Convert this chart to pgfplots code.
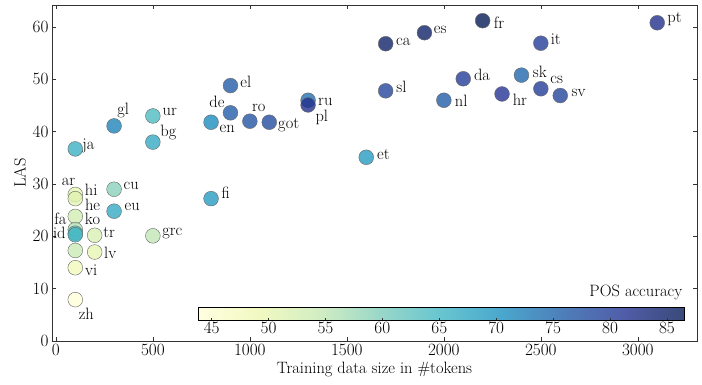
\documentclass[border=0pt]{standalone}
\usepackage{pgfplots}
\pgfplotsset{compat=1.18}
\pgfplotsset{
  colormap={ylgnbu}{rgb255=(255,255,217) rgb255=(237,248,177) rgb255=(199,233,180) rgb255=(127,205,187) rgb255=(65,182,196) rgb255=(29,145,192) rgb255=(34,94,168) rgb255=(37,52,148) rgb255=(8,29,88)},
  colormap={ylgnbuw}{rgb255=(255,255,225) rgb255=(241,249,193) rgb255=(210,237,195) rgb255=(153,215,201) rgb255=(103,197,208) rgb255=(74,167,205) rgb255=(78,126,185) rgb255=(81,93,169) rgb255=(57,74,121)},
}
\newcommand{\fs}{\fontsize{16.5}{19}\selectfont}
\begin{document}
\begin{tikzpicture}
\begin{axis}[
  name=main,
  scale only axis,
  width=645bp, height=336bp,
  xmin=-20, xmax=3305, ymin=0, ymax=64.2,
  xtick={0,500,...,3000}, ytick={0,10,...,60},
  scaled x ticks=false,
  /pgf/number format/1000 sep={},
  tick pos=both, tick align=inside, major tick length=4bp,
  axis line style={black!80},
  every tick/.style={black!80},
  ticklabel style={font=\fs},
  xlabel={Training data size in \#tokens},
  ylabel={LAS},
  label style={font=\fs},
  colormap name=ylgnbu,
  point meta min=43.8, point meta max=86.5,
  colorbar horizontal,
  colorbar style={
    colormap name=ylgnbuw,
    at={(parent axis.south west)}, anchor=south west,
    xshift=146bp, yshift=29bp,
    scale only axis, width=486bp, height=13bp,
    xtick={45,50,...,85},
    xtick pos=bottom, xtick align=inside, major tick length=3bp,
    xticklabel style={font=\fs, inner sep=1.5bp},
    title={POS accuracy},
    title style={at={(1,1)}, anchor=south east, font=\fs, inner sep=1.5bp},
  },
]
\addplot[scatter, only marks, mark=*, mark size=7.4bp, fill opacity=0.8,
  point meta=\thisrow{pos},
  scatter/use mapped color={draw=black!60, fill=mapped color}]
  table[x=x, y=y] {
x y pos
100 36.7 66
300 41.1 72
500 43.0 64
500 38.0 67
900 48.8 76
900 43.6 76
800 41.8 71
1000 42.0 77
1100 41.8 78
1300 46.0 74
1300 45.1 82
1600 35.1 69
1700 56.8 85
1900 58.9 85
2200 61.2 86.5
3100 60.8 82
2500 56.9 80
1700 47.8 79
2100 50.1 80
2400 50.8 75
2000 46.0 76
2300 47.2 81
2500 48.2 80
2600 46.9 79
100 28.0 50
100 27.2 51
100 23.8 53
100 21.3 56
100 20.6 63
100 20.3 65
100 17.3 54
100 14.0 48
100 7.9 43.8
200 20.2 52
200 17.0 50
300 29.0 59
300 24.8 67
500 20.1 55
800 27.2 69
};
\begin{scope}[every node/.style={font=\fs, inner sep=0pt}]
\node at (axis cs:979,49.5) {el};
\node at (axis cs:830,45.7) {de};
\node at (axis cs:1046,44.6) {ro};
\node at (axis cs:883,40.5) {en};
\node at (axis cs:1200,41.3) {got};
\node at (axis cs:1389,45.7) {ru};
\node at (axis cs:1371,42.8) {pl};
\node at (axis cs:347,44.0) {gl};
\node at (axis cs:587,43.8) {ur};
\node at (axis cs:580,39.8) {bg};
\node at (axis cs:168,37.3) {ja};
\node at (axis cs:65,30.4) {ar};
\node at (axis cs:182,28.9) {hi};
\node at (axis cs:388,29.6) {cu};
\node at (axis cs:875,28.3) {fi};
\node at (axis cs:1791,57.2) {ca};
\node at (axis cs:1981,59.5) {es};
\node at (axis cs:2285,60.8) {fr};
\node at (axis cs:3189,61.6) {pt};
\node at (axis cs:2577,57.6) {it};
\node at (axis cs:2197,50.9) {da};
\node at (axis cs:2495,51.4) {sk};
\node at (axis cs:2582,49.9) {cs};
\node at (axis cs:1781,48.6) {sl};
\node at (axis cs:2089,45.9) {nl};
\node at (axis cs:2392,46.1) {hr};
\node at (axis cs:2695,47.4) {sv};
\node at (axis cs:1688,35.6) {et};
\node at (axis cs:189,26.0) {he};
\node at (axis cs:23,23.3) {fa};
\node at (axis cs:189,23.3) {ko};
\node at (axis cs:18,20.6) {id};
\node at (axis cs:275,20.8) {tr};
\node at (axis cs:280,16.8) {lv};
\node at (axis cs:393,25.6) {eu};
\node at (axis cs:600,20.6) {grc};
\node at (axis cs:182,13.6) {vi};
\node at (axis cs:157,5.2) {zh};
\end{scope}
\end{axis}
\path ([shift={(-52bp,-44bp)}]main.south west) ([shift={(5bp,5bp)}]main.north east);
\end{tikzpicture}
\end{document}
